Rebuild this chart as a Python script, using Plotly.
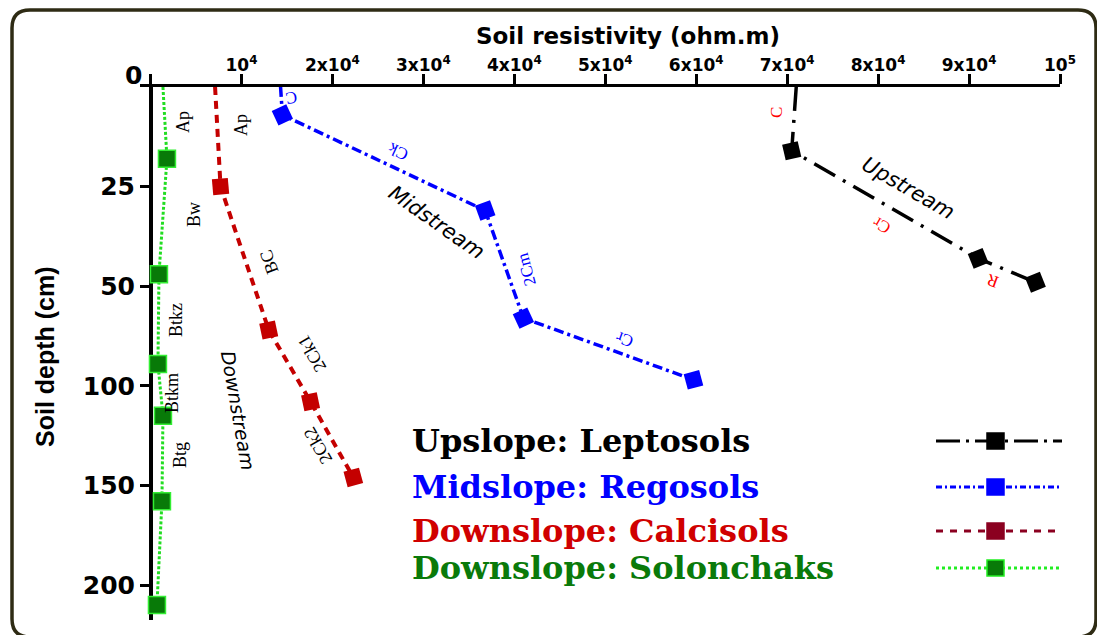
import numpy as np
import plotly.graph_objects as go

# ---- data: depth (cm) and soil resistivity (ohm.m) per profile ----
leptosols_depth = [0, 16, 43, 49]
leptosols_res = [71000, 70500, 91000, 97300]

regosols_depth = [0, 7, 31, 66, 97]
regosols_res = [14300, 14500, 36800, 41000, 59700]

calcisols_depth = [0, 25, 72, 108, 146]
calcisols_res = [7100, 7700, 13000, 17600, 22300]

solonchaks_depth = [0, 18, 47, 89, 115, 158, 210]
solonchaks_res = [1370, 1810, 930, 820, 1370, 1260, 710]

depth_ticks = [0, 25, 50, 100, 150, 200]
res_ticks = [10000, 20000, 30000, 40000, 50000, 60000, 70000, 80000, 90000, 100000]
res_tick_text = ["10<sup>4</sup>", "2x10<sup>4</sup>", "3x10<sup>4</sup>", "4x10<sup>4</sup>",
                 "5x10<sup>4</sup>", "6x10<sup>4</sup>", "7x10<sup>4</sup>", "8x10<sup>4</sup>",
                 "9x10<sup>4</sup>", "10<sup>5</sup>"]

legend_labels = ["Upslope: Leptosols", "Midslope: Regosols",
                 "Downslope: Calcisols", "Downslope: Solonchaks"]

# ---- depth axis: tick labels are evenly spaced (piecewise-linear scale) ----
def depth_to_axis(depth):
    d = np.asarray(depth, dtype=float)
    pos = np.interp(d, depth_ticks, np.arange(len(depth_ticks)))
    last = len(depth_ticks) - 1
    step = depth_ticks[-1] - depth_ticks[-2]
    beyond = d > depth_ticks[-1]
    pos[beyond] = last + (d[beyond] - depth_ticks[-1]) / step
    return pos

# ---- page geometry (pixels) ----
W, H = 1097, 635
PL, PR, PT, PB = 140, 1060, 87, 620


def px(x):
    return (x - PL) / (PR - PL)


def py(y):
    return (PB - y) / (PB - PT)


fig = go.Figure()


def profile(res, depth, color, width, dash, angles, mfill=None, medge=None, msize=16):
    n = len(res)
    fig.add_trace(go.Scatter(
        x=res, y=depth_to_axis(depth), mode="lines+markers",
        line=dict(color=color, width=width, dash=dash),
        marker=dict(symbol="square", size=[0] + [msize] * (n - 1), opacity=1,
                    color=mfill or color, angle=angles,
                    line=dict(color=medge or (mfill or color), width=1.5 if medge else 0)),
        cliponaxis=False, showlegend=False, hoverinfo="x+y"))


profile(solonchaks_res, solonchaks_depth, "#22dd22", 3, "3px,2px",
        [0] * 7, mfill="#087a08", medge="#33ee33", msize=17)
profile(calcisols_res, calcisols_depth, "#c40000", 4, "8px,6px", [0, -5, -12, -12, -15])
profile(regosols_res, regosols_depth, "#0000ff", 3.5, "10px,4px,3px,4px", [0, -25, -20, -25, -15])
profile(leptosols_res, leptosols_depth, "#000000", 3.5, "24px,9px,3px,9px", [0, -13, -22, -22])

annotations = []


def label(text, x, y, angle=0, size=18, color="black", family="Liberation Serif",
          italic=False, weight="normal", xanchor="center"):
    annotations.append(dict(
        text=text, x=px(x), y=py(y), xref="paper", yref="paper", showarrow=False,
        textangle=angle, xanchor=xanchor, yanchor="middle",
        font=dict(family=family, size=size, color=color, weight=weight,
                  style="italic" if italic else "normal")))


# axis titles and corner origin
label("Soil resistivity (ohm.m)", 628, 36, size=23, family="DejaVu Sans", weight="bold")
label("Soil depth (cm)", 45, 357, angle=-90, size=25, family="Liberation Sans", weight="bold")
label("0", 133, 75, size=25, family="DejaVu Sans", weight="bold")

# Solonchaks horizons
label("Ap", 183, 122, -90)
label("Bw", 194, 215, -90)
label("Btkz", 176, 320, -90)
label("Btkm", 172, 393, -90)
label("Btg", 180, 455, -90)

# Calcisols horizons
label("Ap", 241, 125, -90)
label("BC", 269, 262, -110)
label("2Ck1", 312, 354, -120)
label("2Ck2", 318, 446, -120)
label("Downstream", 238, 410, 80, size=19, family="DejaVu Sans", italic=True)

# Regosols horizons
label("C", 292, 97, 170, size=17, color="#0000ff")
label("Ck", 398, 152, -155, size=17, color="#0000ff")
label("Midstream", 436, 222, 35, size=21, family="DejaVu Sans", italic=True)
label("2Cm", 526, 270, -105, size=17, color="#0000ff")
label("Cr", 625, 340, -160, size=17, color="#0000ff")

# Leptosols horizons
label("C", 776, 113, -90, size=17, color="#ff0000")
label("Upstream", 908, 188, 30, size=21, family="DejaVu Sans", italic=True)
label("Cr", 882, 226, -150, size=17, color="#ff0000")
label("R", 992, 281, -160, size=17, color="#ff0000")

# ---- legend (text on the left, line sample on the right) ----
legend_rows = [441, 487, 531, 568]
legend_text_colors = ["#000000", "#0000ff", "#d00000", "#0a7a0a"]
legend_line_colors = ["#000000", "#0000ff", "#8b0020", "#22ee22"]
legend_fill = ["#000000", "#0000ff", "#8b0020", "#087a08"]
legend_dash = ["24px,6px,3px,6px", "6px,3px,2px,3px", "7px,7px", "3px,3px"]
for name, yy, tc in zip(legend_labels, legend_rows, legend_text_colors):
    label(name, 410, yy, size=32, color=tc, family="DejaVu Serif", weight="bold", xanchor="left")

shapes = []
for yy, lc, fc, ds in zip(legend_rows, legend_line_colors, legend_fill, legend_dash):
    shapes.append(dict(type="line", xref="paper", yref="paper",
                       x0=px(936), x1=px(1062), y0=py(yy), y1=py(yy),
                       line=dict(color=lc, width=3, dash=ds)))
    shapes.append(dict(type="rect", xref="paper", yref="paper",
                       x0=px(987), x1=px(1004), y0=py(yy - 8), y1=py(yy + 8),
                       fillcolor=fc, line=dict(color=lc if lc != fc else fc, width=1.5)))

# ---- rounded outer frame ----
fl, ft, fr, fb, r = 12, 10, 1096, 637, 18
rx, ry = r / (PR - PL), r / (PB - PT)
X0, X1, Y0, Y1 = px(fl), px(fr), py(fb), py(ft)
frame_path = (f"M {X0 + rx},{Y1} L {X1 - rx},{Y1} Q {X1},{Y1} {X1},{Y1 - ry} "
              f"L {X1},{Y0 + ry} Q {X1},{Y0} {X1 - rx},{Y0} "
              f"L {X0 + rx},{Y0} Q {X0},{Y0} {X0},{Y0 + ry} "
              f"L {X0},{Y1 - ry} Q {X0},{Y1} {X0 + rx},{Y1} Z")
shapes.append(dict(type="path", xref="paper", yref="paper", path=frame_path,
                   line=dict(color="#2e2b14", width=3.5), layer="below"))

x_per_px = 100000 / (PR - 150.5)
y_per_px = 5 / (585 - PT)

fig.update_layout(
    width=W, height=H,
    margin=dict(l=PL, r=W - PR, t=PT, b=H - PB, pad=0),
    paper_bgcolor="white", plot_bgcolor="white",
    showlegend=False,
    annotations=annotations, shapes=shapes,
    xaxis=dict(
        side="top", range=[-(150.5 - PL) * x_per_px, 100000],
        showgrid=False, zeroline=True, zerolinecolor="black", zerolinewidth=3.5,
        showline=True, linecolor="black", linewidth=3,
        ticks="outside", ticklen=10, tickwidth=2.5, tickcolor="black",
        tickvals=[0] + res_ticks, ticktext=[""] + res_tick_text,
        tickfont=dict(family="DejaVu Sans", size=17, color="black", weight="bold"),
        ticklabelstandoff=-4,
    ),
    yaxis=dict(
        range=[(PB - PT) * y_per_px, 0],
        showgrid=False, zeroline=False, showline=False,
        ticks="inside", ticklen=12, tickwidth=2.5, tickcolor="black",
        tickvals=list(range(1, len(depth_ticks))),
        ticktext=[str(v) for v in depth_ticks[1:]],
        tickfont=dict(family="DejaVu Sans", size=25, color="black", weight="bold"),
        ticklabelstandoff=4,
    ),
)

fig.write_html("out.html")
